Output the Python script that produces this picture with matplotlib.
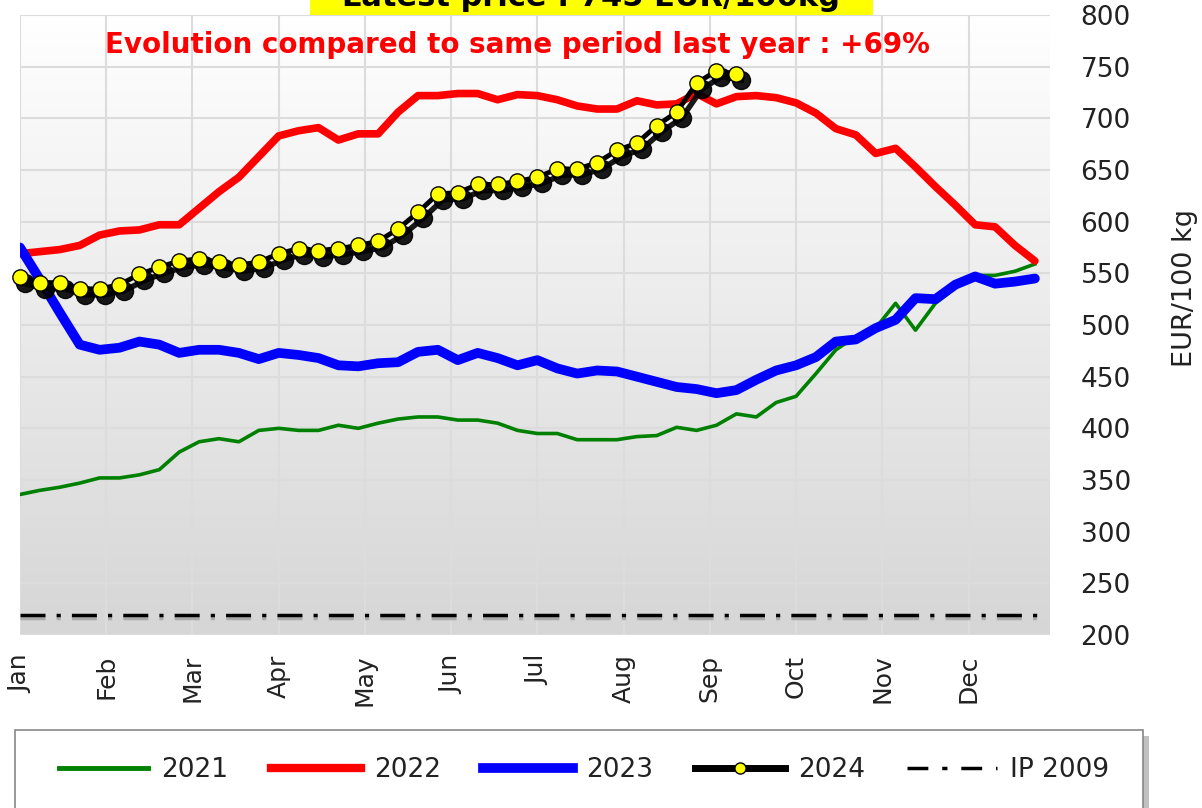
import matplotlib.pyplot as plt
import matplotlib.transforms as mtransforms
from matplotlib.colors import LinearSegmentedColormap
from matplotlib.lines import Line2D
from matplotlib.patches import Rectangle
import numpy as np

months = ['Jan', 'Feb', 'Mar', 'Apr', 'May', 'Jun', 'Jul', 'Aug', 'Sep', 'Oct', 'Nov', 'Dec']

# weekly prices, EUR/100 kg
p2021 = [336, 340, 343, 347, 352, 352, 355, 360, 377, 387, 390, 387, 398, 400, 398, 398,
         403, 400, 405, 409, 411, 411, 408, 408, 405, 398, 395, 395, 389, 389, 389, 392,
         393, 401, 398, 403, 414, 411, 425, 431, 453, 476, 489, 497, 521, 495, 521, 536,
         548, 548, 552, 559]
p2022 = [569, 571, 573, 577, 587, 591, 592, 597, 597, 613, 629, 643, 663, 683, 688, 691,
         679, 685, 685, 706, 722, 722, 724, 724, 718, 723, 722, 718, 712, 709, 709, 717,
         713, 714, 724, 714, 721, 722, 720, 715, 705, 690, 684, 666, 671, 653, 634, 616,
         597, 595, 577, 562]
p2023 = [575, 544, 512, 481, 476, 478, 484, 481, 473, 476, 476, 473, 467, 473, 471, 468,
         461, 460, 463, 464, 474, 476, 466, 473, 468, 461, 466, 458, 453, 456, 455, 450,
         445, 440, 438, 434, 437, 447, 456, 461, 469, 484, 486, 497, 505, 526, 525, 539,
         547, 540, 542, 545]
p2024 = [546, 541, 541, 535, 535, 539, 549, 556, 562, 564, 561, 558, 561, 569, 574, 572,
         574, 577, 581, 593, 609, 627, 628, 636, 636, 639, 643, 651, 651, 657, 669, 676,
         693, 706, 734, 746, 743]
ip2009 = 219

W, H = 1202, 808
fig = plt.figure(figsize=(W / 100, H / 100), dpi=100)
ax = fig.add_axes([20 / W, 1 - 635 / H, 1030 / W, 620 / H])

# grey gradient background
cmap = LinearSegmentedColormap.from_list('bg', ['#d6d6d6', '#ffffff'])
ax.imshow(np.linspace(0, 1, 256).reshape(-1, 1), extent=[0, 1, 0, 1], transform=ax.transAxes,
          cmap=cmap, aspect='auto', origin='lower', zorder=-2)

wk = np.arange(52)
ax.plot(wk[:len(p2021)], p2021, color='#008000', lw=2.6, zorder=3)
ax.plot(wk[:len(p2022)], p2022, color='#ff0000', lw=5.5, zorder=4, solid_capstyle='round')
ax.plot(wk[:len(p2023)], p2023, color='#0000ff', lw=7, zorder=5, solid_capstyle='round')

# IP 2009 reference line with a soft shadow
dd = [7.2, 3.2, 1.2, 3.2]
sh2 = mtransforms.offset_copy(ax.transData, fig=fig, x=0, y=-3, units='dots')
ax.plot([0, 51.6], [ip2009, ip2009], color='#aaaaaa', lw=2.5, dashes=dd, transform=sh2, zorder=2)
ax.plot([0, 51.6], [ip2009, ip2009], color='black', lw=2.5, dashes=dd, zorder=2)

# 2024 with shadow
w24 = wk[:len(p2024)]
sh = mtransforms.offset_copy(ax.transData, fig=fig, x=5, y=-6, units='dots')
ax.plot(w24, p2024, color='black', lw=4, marker='o', ms=13, mfc='black', mec='black',
        transform=sh, zorder=6, clip_on=False, alpha=0.9)
ax.plot(w24, p2024, color='black', lw=3.5, marker='o', ms=11, mfc='#ffff00', mec='black',
        mew=1, zorder=7, clip_on=False)

ax.set_xlim(0, 51.76)
ax.set_ylim(200, 800)
ax.set_xticks([m * 52 / 12 for m in range(12)])
ax.set_xticklabels(months, rotation=90, fontsize=18, color='#222222')
ax.set_yticks(range(200, 801, 50))
ax.yaxis.tick_right()
ax.tick_params(axis='y', length=0, pad=22, labelsize=19, labelcolor='#222222')
ax.tick_params(axis='x', length=0, pad=14)
ax.grid(True, color='#dcdcdc', lw=1.5)
ax.set_axisbelow(True)
for s in ax.spines.values():
    s.set_visible(False)

fig.text(1185 / W, 1 - 288 / H, 'EUR/100 kg', rotation=90, ha='center', va='center',
         fontsize=19.5, color='#222222')

# title box (cut by top edge, as in the source) and subtitle
fig.patches.append(Rectangle((310 / W, 1 - 15 / H), 563 / W, 30 / H, transform=fig.transFigure,
                             facecolor='#ffff00', edgecolor='none', zorder=1))
fig.text(591 / W, 1 - 6 / H, 'Latest price : 745 EUR/100kg', ha='center', va='baseline',
         fontsize=22, fontweight='bold', color='black', zorder=2)
fig.text(517 / W, 1 - 45 / H, 'Evolution compared to same period last year : +69%',
         ha='center', va='center', fontsize=20, fontweight='bold', color='#ff0000')

# legend box with shadow
fig.patches.append(Rectangle((21 / W, 1 - 830 / H), 1128 / W, 94 / H, transform=fig.transFigure,
                             facecolor='#999999', edgecolor='none', alpha=0.6, zorder=0))
fig.patches.append(Rectangle((15 / W, 1 - 830 / H), 1128 / W, 100 / H, transform=fig.transFigure,
                             facecolor='white', edgecolor='#888888', lw=1.2, zorder=1))

handles = [
    Line2D([], [], color='#008000', lw=3.5),
    Line2D([], [], color='#ff0000', lw=6),
    Line2D([], [], color='#0000ff', lw=7),
    Line2D([], [], color='black', lw=5, marker='o', ms=8, mfc='#ffff00', mec='black'),
    Line2D([], [], color='black', lw=2.5, dashes=[6, 4, 1.5, 4]),
]
labels = ['2021', '2022', '2023', '2024', 'IP 2009']
leg = fig.legend(handles, labels, loc='center', bbox_to_anchor=(584 / W, 1 - 770 / H), ncol=5,
                 frameon=False, fontsize=19, handlelength=3.4, handletextpad=0.5,
                 columnspacing=1.6, numpoints=1)
for t in leg.get_texts():
    t.set_color('#222222')

fig.savefig('out.png', dpi=100)
